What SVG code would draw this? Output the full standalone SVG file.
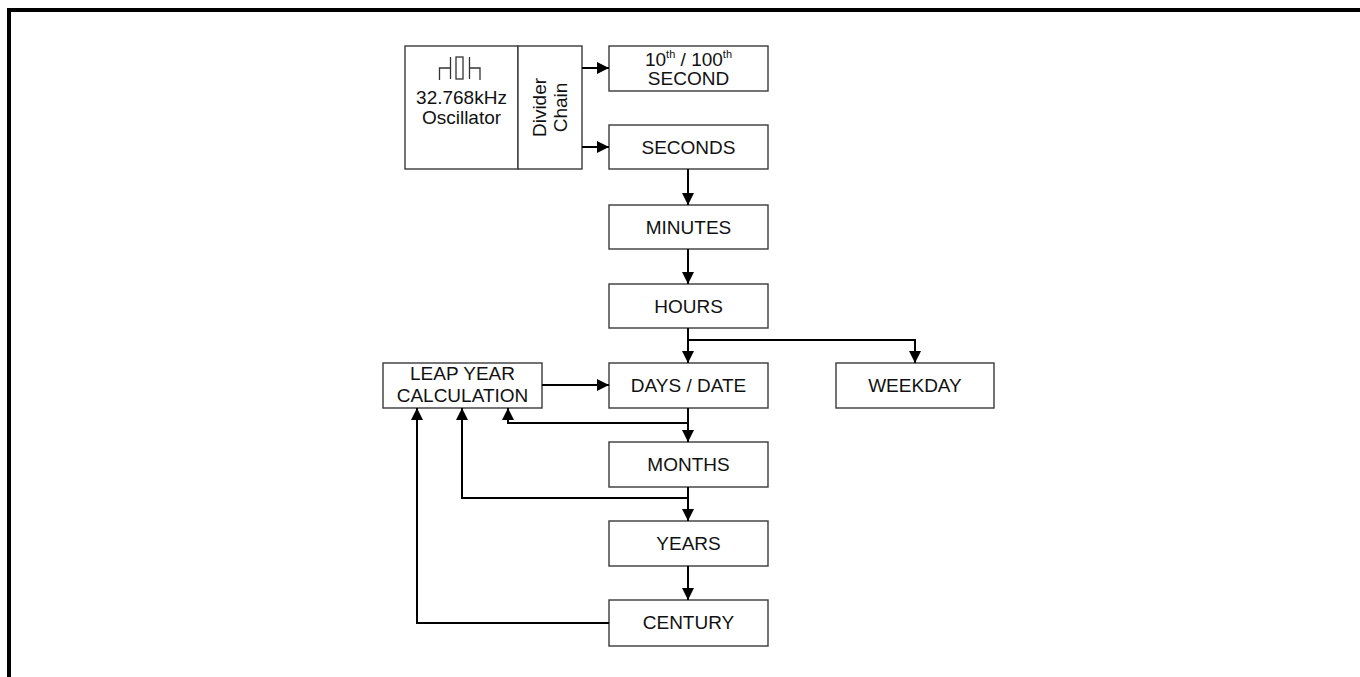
<svg xmlns="http://www.w3.org/2000/svg" width="1360" height="677" viewBox="0 0 1360 677">
<style>
.box{fill:#fff;stroke:#3a3a3a;stroke-width:1.4}
.t{font-family:"Liberation Sans",Arial,sans-serif;font-size:19px;fill:#111;text-anchor:middle}
.sup{font-size:11px}
.c{fill:none;stroke:#000;stroke-width:2}
.sym{fill:none;stroke:#333;stroke-width:1.3}
</style>
<defs>
<marker id="ah" markerUnits="userSpaceOnUse" markerWidth="12" markerHeight="12" viewBox="0 0 12 12" refX="12" refY="6" orient="auto">
<path d="M0,0 L12,6 L0,12 z" fill="#000"/>
</marker>
</defs>
<rect width="1360" height="677" fill="#fff"/>
<path d="M9,677 V10 H1360" fill="none" stroke="#000" stroke-width="4"/>

<g id="oscillator">
<rect class="box" x="405" y="46" width="113" height="123"/>
<path class="sym" d="M439.5,80 V68 H450.5 M450.5,57 V79 M469.5,57 V79 M469.5,68 H480 V80"/>
<rect class="sym" x="456" y="57" width="7" height="22"/>
<text class="t" x="461.5" y="104">32.768kHz</text>
<text class="t" x="461.5" y="124">Oscillator</text>
</g>
<g id="divider">
<rect class="box" x="518" y="46" width="64" height="123"/>
<text class="t" transform="translate(546,107.5) rotate(-90)">Divider</text>
<text class="t" transform="translate(567,107.5) rotate(-90)">Chain</text>
</g>
<g id="tenth">
<rect class="box" x="609" y="46" width="159" height="45"/>
<text class="t" x="688.5" y="66">10<tspan class="sup" dy="-8">th</tspan><tspan dy="8"> / 100</tspan><tspan class="sup" dy="-8">th</tspan></text>
<text class="t" x="688.5" y="85">SECOND</text>
</g>
<g id="seconds">
<rect class="box" x="609" y="125" width="159" height="44"/>
<text class="t" x="688.5" y="154">SECONDS</text>
</g>
<g id="minutes">
<rect class="box" x="609" y="205" width="159" height="44"/>
<text class="t" x="688.5" y="234">MINUTES</text>
</g>
<g id="hours">
<rect class="box" x="609" y="284" width="159" height="44"/>
<text class="t" x="688.5" y="313">HOURS</text>
</g>
<g id="days">
<rect class="box" x="609" y="363" width="159" height="45"/>
<text class="t" x="688.5" y="392">DAYS / DATE</text>
</g>
<g id="weekday">
<rect class="box" x="836" y="363" width="158" height="45"/>
<text class="t" x="915" y="392">WEEKDAY</text>
</g>
<g id="leapyear">
<rect class="box" x="383" y="363" width="159" height="45"/>
<text class="t" x="462.5" y="380">LEAP YEAR</text>
<text class="t" x="462.5" y="402">CALCULATION</text>
</g>
<g id="months">
<rect class="box" x="609" y="442" width="159" height="45"/>
<text class="t" x="688.5" y="471">MONTHS</text>
</g>
<g id="years">
<rect class="box" x="609" y="521" width="159" height="45"/>
<text class="t" x="688.5" y="550">YEARS</text>
</g>
<g id="century">
<rect class="box" x="609" y="600" width="159" height="46"/>
<text class="t" x="688.5" y="629">CENTURY</text>
</g>

<g id="connectors">
<path class="c" d="M582,68 H609" marker-end="url(#ah)"/>
<path class="c" d="M582,147 H609" marker-end="url(#ah)"/>
<path class="c" d="M688,169 V205" marker-end="url(#ah)"/>
<path class="c" d="M688,249 V284" marker-end="url(#ah)"/>
<path class="c" d="M688,328 V363" marker-end="url(#ah)"/>
<path class="c" d="M688,340 H915 V363" marker-end="url(#ah)"/>
<path class="c" d="M542,385 H609" marker-end="url(#ah)"/>
<path class="c" d="M688,408 V442" marker-end="url(#ah)"/>
<path class="c" d="M688,423 H508 V408" marker-end="url(#ah)"/>
<path class="c" d="M688,487 V521" marker-end="url(#ah)"/>
<path class="c" d="M688,498 H462 V408" marker-end="url(#ah)"/>
<path class="c" d="M688,566 V600" marker-end="url(#ah)"/>
<path class="c" d="M609,623 H417 V408" marker-end="url(#ah)"/>
</g>
</svg>
